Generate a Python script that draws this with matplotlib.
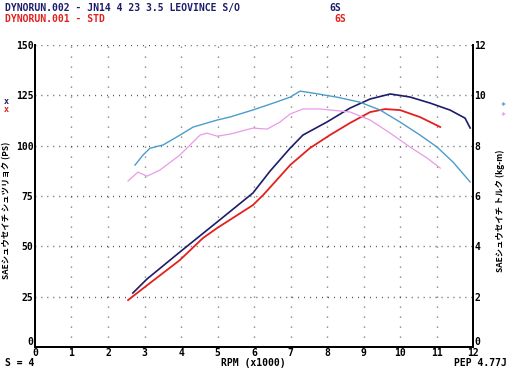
import numpy as np
import matplotlib
matplotlib.use("Agg")
import matplotlib.pyplot as plt

# DYNORUN.002 (navy power, light blue torque)
rpm_pw2 = [2.68, 3.07, 3.97, 4.99, 5.97, 6.44, 6.99, 7.34, 8.0, 8.63, 9.18, 9.73,
           10.27, 10.82, 11.37, 11.78, 11.92]
ps_2 = [26.8, 33.8, 47.2, 62.1, 76.5, 87.4, 98.8, 105.3, 111.8, 118.7, 123.2, 125.7,
        124.2, 121.2, 117.7, 113.7, 108.8]
rpm_tq2 = [2.74, 2.96, 3.15, 3.51, 3.97, 4.33, 4.99, 5.34, 5.97, 6.52, 6.99, 7.26,
           7.62, 8.27, 8.9, 9.45, 10.0, 10.55, 11.01, 11.45, 11.92]
kgm_2 = [7.23, 7.63, 7.9, 8.03, 8.42, 8.74, 9.02, 9.14, 9.42, 9.69, 9.93, 10.17,
         10.09, 9.93, 9.73, 9.42, 8.94, 8.42, 7.95, 7.35, 6.56]

# DYNORUN.001 (red power, pink torque)
rpm_pw1 = [2.55, 3.01, 3.97, 4.6, 4.99, 5.97, 6.25, 6.55, 6.99, 7.53, 8.08, 8.63,
           9.18, 9.59, 10.0, 10.55, 11.1]
ps_1 = [23.3, 29.8, 43.2, 54.1, 59.1, 70.5, 75.5, 81.5, 90.4, 98.8, 105.3, 111.3,
        116.7, 118.2, 117.7, 114.2, 109.3]
rpm_tq1 = [2.55, 2.82, 3.07, 3.42, 3.97, 4.52, 4.71, 4.99, 5.34, 5.97, 6.36, 6.71,
           6.99, 7.34, 7.81, 8.08, 8.63, 9.18, 9.73, 10.27, 10.74, 11.1]
kgm_1 = [6.6, 6.95, 6.79, 7.03, 7.63, 8.42, 8.5, 8.38, 8.46, 8.7, 8.66, 8.94,
         9.26, 9.46, 9.46, 9.42, 9.34, 9.02, 8.5, 7.95, 7.51, 7.11]

x_ticks = list(range(0, 13))
ps_ticks = [0, 25, 50, 75, 100, 125, 150]
kgm_ticks = [0, 2, 4, 6, 8, 10, 12]

NAVY = "#1c1c6a"
RED = "#e3201c"
LBLUE = "#4b9ccc"
PINK = "#e99be6"

plt.rcParams['font.family'] = ['Noto Sans CJK JP', 'DejaVu Sans']
mono = dict(family=['DejaVu Sans Mono', 'Noto Sans CJK JP'], fontweight='bold')

fig = plt.figure(figsize=(5.1, 3.7), dpi=100)
ax = fig.add_axes([0.0686, 0.0622, 0.859, 0.816])
ax2 = ax.twinx()

ax.set_xlim(0, 12)
ax.set_ylim(0, 150)
ax2.set_ylim(0, 12)

# dotted grid
for v in ps_ticks[1:]:
    ax.axhline(v, color="#333333", lw=1.0, ls=(0, (0.6, 3.7)), zorder=0)
for v in x_ticks[1:-1]:
    ax.axvline(v, color="#333333", lw=1.0, ls=(0, (0.6, 6.6)), zorder=0)

ax.plot(rpm_pw2, ps_2, color=NAVY, lw=1.2, zorder=3)
ax.plot(rpm_pw1, ps_1, color=RED, lw=1.3, zorder=3)
ax2.plot(rpm_tq2, kgm_2, color=LBLUE, lw=1.0)
ax2.plot(rpm_tq1, kgm_1, color=PINK, lw=0.9)

for a in (ax, ax2):
    a.spines['top'].set_visible(False)
    for s in ('left', 'right', 'bottom'):
        a.spines[s].set_linewidth(1.4)
    a.tick_params(length=0, pad=1)

ax.set_xticks(x_ticks)
ax.set_yticks(ps_ticks)
ax2.set_yticks(kgm_ticks)
ax.tick_params(axis='x', pad=0.5)
for lab in ax.get_xticklabels() + ax.get_yticklabels() + ax2.get_yticklabels():
    lab.set_fontfamily('DejaVu Sans Mono')
    lab.set_fontweight('bold')
    lab.set_fontsize(7)
# bottom-most y labels sit just above the x labels, as on the dyno sheet
ax.get_yticklabels()[0].set_verticalalignment('bottom')
ax2.get_yticklabels()[0].set_verticalalignment('bottom')

# header
fig.text(0.01, 0.978, "DYNORUN.002 - JN14 4 23 3.5 LEOVINCE S/O", color=NAVY,
         fontsize=7, va='center', **mono)
fig.text(0.646, 0.978, "6S", color=NAVY, fontsize=7, va='center', **mono)
fig.text(0.01, 0.948, "DYNORUN.001 - STD", color=RED, fontsize=7, va='center', **mono)
fig.text(0.655, 0.948, "6S", color=RED, fontsize=7, va='center', **mono)

# footer
fig.text(0.01, 0.02, "S = 4", color="black", fontsize=7, va='center', **mono)
fig.text(0.496, 0.02, "RPM (x1000)", color="black", fontsize=7, va='center', ha='center', **mono)
fig.text(0.994, 0.02, "PEP 4.77J", color="black", fontsize=7, va='center', ha='right', **mono)

# axis titles
fig.text(0.014, 0.432, "SAEシュウセイチ シュツリョク (PS)", rotation=90, fontsize=6,
         fontweight='bold', va='center', ha='center')
fig.text(0.982, 0.43, "SAEシュウセイチ トルク (kg-m)", rotation=90, fontsize=6,
         fontweight='bold', va='center', ha='center')

# series markers
fig.text(0.012, 0.727, "x", color=NAVY, fontsize=6, va='center', ha='center', **mono)
fig.text(0.012, 0.705, "x", color=RED, fontsize=6, va='center', ha='center', **mono)
fig.text(0.986, 0.712, "*", color=LBLUE, fontsize=6, va='center', ha='center', **mono)
fig.text(0.986, 0.686, "*", color=PINK, fontsize=6, va='center', ha='center', **mono)

fig.savefig("out.png", dpi=100)
